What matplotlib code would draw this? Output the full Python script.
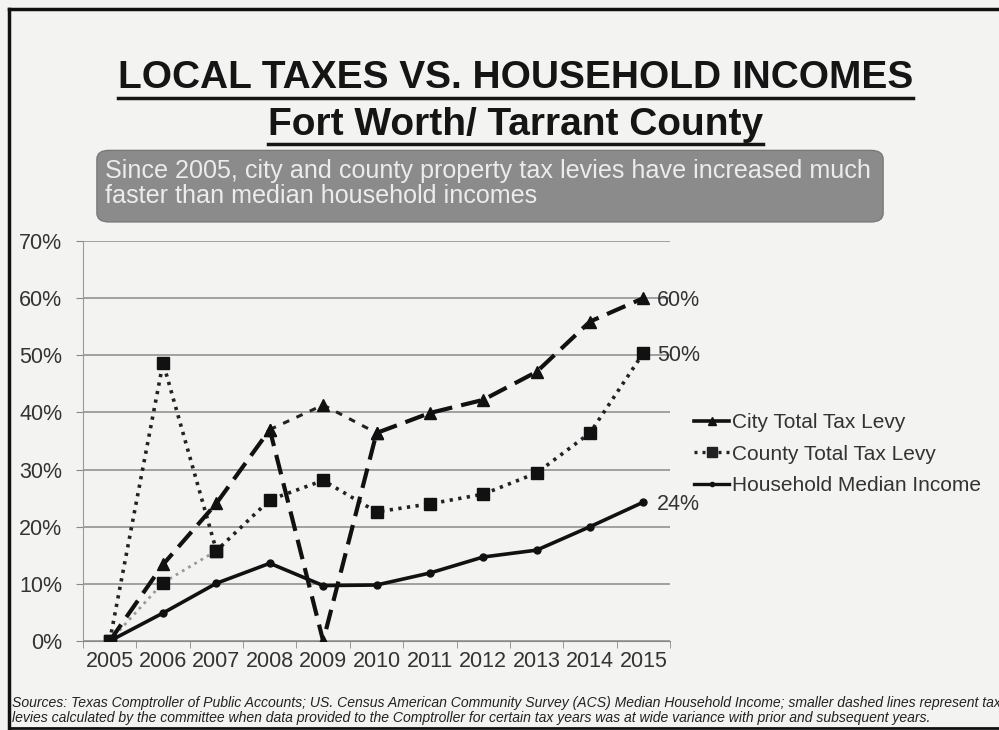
import matplotlib.pyplot as plt
from matplotlib.lines import Line2D
from matplotlib.patches import FancyBboxPatch

plt.rcParams['font.family'] = ['Liberation Sans', 'DejaVu Sans']

years = ['2005', '2006', '2007', '2008', '2009', '2010',
         '2011', '2012', '2013', '2014', '2015']

# percent change since 2005
city_levy = [0, 13.4, 24.1, 37.0, 0, 36.4, 39.9, 42.2, 47.1, 55.9, 60.0]
county_levy = [0, 48.7, 15.8, 24.7, 28.1, 22.6, 24.0, 25.7, 29.4, 36.4, 50.4]
household_income = [0, 4.9, 10.1, 13.6, 9.7, 9.8, 11.9, 14.7, 15.9, 20.0, 24.3]

# committee-calculated levies (smaller dashed lines)
city_alt_years = ['2008', '2009', '2010']
city_alt = [37.0, 41.3, 36.4]
county_alt_years = ['2005', '2006', '2007']
county_alt = [0, 10.2, 15.8]

end_labels = ['60%', '50%', '24%']

bg = '#f3f3f1'
fig = plt.figure(figsize=(9.99, 7.30), dpi=100, facecolor=bg)
ax = fig.add_axes([0.0831, 0.1219, 0.5876, 0.548])
ax.set_facecolor(bg)

xpos = list(range(len(years)))
idx = {y: i for i, y in enumerate(years)}

# alternate lines first (underneath)
ax.plot([idx[y] for y in county_alt_years], county_alt, color='#9a9a9a',
        linestyle=(0, (1, 1.6)), lw=2.0, marker='s', markersize=9,
        markerfacecolor='#111111', markeredgecolor='#111111')
ax.plot([idx[y] for y in city_alt_years], city_alt, color='#222222',
        linestyle=(0, (2.2, 2.6)), lw=2.2, marker='^', markersize=9,
        markerfacecolor='#111111', markeredgecolor='#111111')

ax.plot(xpos, household_income, color='#111111', lw=2.6, marker='o',
        markersize=5, zorder=4)
ax.plot(xpos, county_levy, color='#222222', linestyle=(0, (0.9, 1.5)),
        lw=2.6, marker='s', markersize=9, markerfacecolor='#111111',
        markeredgecolor='#111111', zorder=4)
ax.plot(xpos, city_levy, color='#111111', linestyle=(0, (4.8, 2.2)),
        lw=3.0, marker='^', markersize=8, zorder=5)

for val, lab in zip([city_levy[-1], county_levy[-1], household_income[-1]], end_labels):
    ax.text(len(years) - 1 + 0.25, val - 0.4, lab, fontsize=15.5, color='#333333',
            va='center', ha='left')

ax.set_xlim(-0.5, len(years) - 0.5)
ax.set_ylim(0, 70)
ax.set_yticks(range(0, 71, 10))
ax.set_yticklabels([f'{v}%' for v in range(0, 71, 10)], fontsize=15.5, color='#333333')
ax.set_xticks(xpos)
ax.set_xticklabels(years, fontsize=15.5, color='#333333')
ax.set_xticks([i - 0.5 for i in range(len(years) + 1)], minor=True)
ax.tick_params(axis='x', which='major', length=0, pad=7)
ax.tick_params(axis='x', which='minor', length=5, color='#888888')
ax.tick_params(axis='y', length=5, color='#888888', pad=10)
ax.grid(axis='y', color='#8a8a8a', lw=1.1)
ax.set_axisbelow(True)
for s in ['top', 'right']:
    ax.spines[s].set_visible(False)
ax.spines['left'].set_color('#999999')
ax.spines['bottom'].set_color('#888888')
ax.spines['left'].set_linestyle((0, (1, 1)))

handles = [
    Line2D([], [], color='#111111', lw=2.6, marker='^', markersize=6),
    Line2D([], [], color='#222222', lw=2.4, linestyle=(0, (0.9, 1.5)),
           marker='s', markersize=7),
    Line2D([], [], color='#111111', lw=2.4, marker='o', markersize=3),
]
ax.legend(handles, ['City Total Tax Levy', 'County Total Tax Levy',
                    'Household Median Income'],
          loc='center left', bbox_to_anchor=(0.676, 0.378),
          bbox_transform=fig.transFigure, frameon=False, fontsize=15,
          handlelength=1.7, handletextpad=0.1, labelspacing=0.6,
          labelcolor='#333333')

# titles
t1 = fig.text(0.516, 0.893, 'LOCAL TAXES VS. HOUSEHOLD INCOMES',
              fontsize=28, fontweight='bold', ha='center', va='center',
              color='#151515')
t2 = fig.text(0.516, 0.829, 'Fort Worth/ Tarrant County', fontsize=28,
              fontweight='bold', ha='center', va='center', color='#151515')

box = FancyBboxPatch((0.097, 0.696), 0.787, 0.098,
                     boxstyle='round,pad=0,rounding_size=0.012',
                     transform=fig.transFigure, facecolor='#8b8b8b',
                     edgecolor='#7a7a7a', lw=1)
fig.patches.append(box)
fig.text(0.105, 0.7655, 'Since 2005, city and county property tax levies have increased much',
         fontsize=18.1, color='#ececec', va='center', ha='left')
fig.text(0.105, 0.7315, 'faster than median household incomes',
         fontsize=18.1, color='#ececec', va='center', ha='left')

fig.text(0.012, 0.037,
         'Sources: Texas Comptroller of Public Accounts; US. Census American Community Survey (ACS) '
         'Median Household Income; smaller dashed lines represent tax',
         fontsize=10.1, style='italic', color='#222222', va='center', ha='left')
fig.text(0.012, 0.017,
         'levies calculated by the committee when data provided to the Comptroller for certain tax years '
         'was at wide variance with prior and subsequent years.',
         fontsize=10.1, style='italic', color='#222222', va='center', ha='left')

# slide frame
fig.add_artist(Line2D([0.009, 0.009], [0, 0.988], transform=fig.transFigure,
                      color='#111111', lw=2.5))
fig.add_artist(Line2D([0.009, 1], [0.988, 0.988], transform=fig.transFigure,
                      color='#111111', lw=2.5))
fig.add_artist(Line2D([0.009, 1], [0.003, 0.003], transform=fig.transFigure,
                      color='#111111', lw=2))

# underline titles
fig.canvas.draw()
r = fig.canvas.get_renderer()
for t in (t1, t2):
    bb = t.get_window_extent(r).transformed(fig.transFigure.inverted())
    fig.add_artist(Line2D([bb.x0, bb.x1], [bb.y0 - 0.002, bb.y0 - 0.002],
                          transform=fig.transFigure, color='#151515', lw=2.5))

fig.savefig('out.png', dpi=100, facecolor=bg)
